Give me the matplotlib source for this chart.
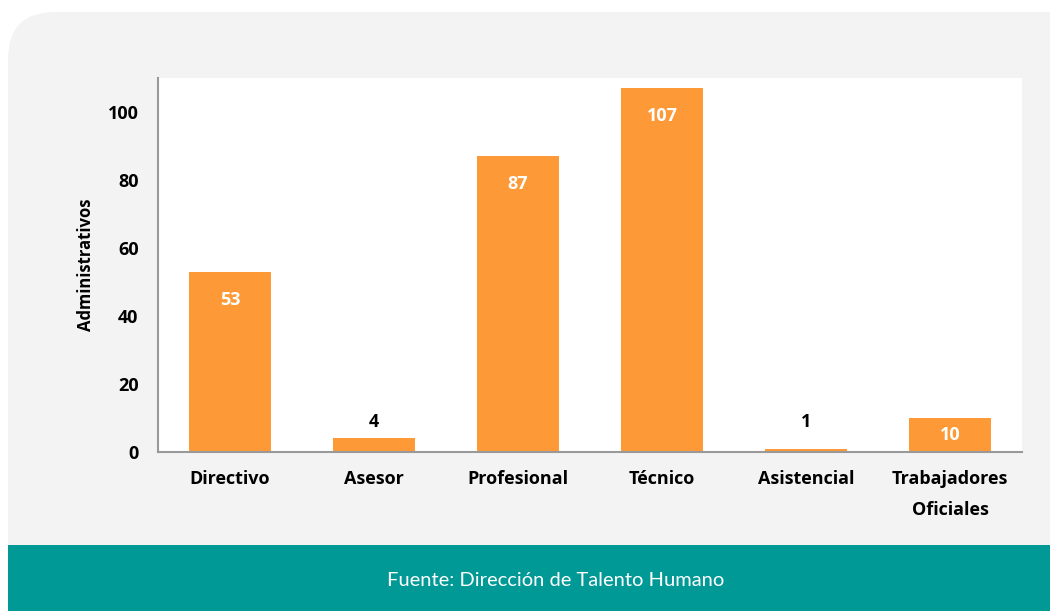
import matplotlib.pyplot as plt
from matplotlib.patches import FancyBboxPatch, Rectangle

plt.rcParams['font.family'] = ['Open Sans', 'DejaVu Sans']

categorias = ['Directivo', 'Asesor', 'Profesional', 'Técnico', 'Asistencial', 'Trabajadores\nOficiales']
valores = [53, 4, 87, 107, 1, 10]
yticks = [0, 20, 40, 60, 80, 100]

naranja = '#fd9a37'
teal = '#009995'

fig = plt.figure(figsize=(10.5, 6.11), dpi=100)
fig.patch.set_facecolor('white')

# panel gris redondeado y franja de fuente
panel = FancyBboxPatch((8 / 1050, 0), 1.2, (611 - 12) / 611, transform=fig.transFigure,
                       boxstyle='round,pad=0,rounding_size=0.045', mutation_aspect=1050 / 611,
                       facecolor='#f3f3f3', edgecolor='none', zorder=0)
fig.patches.append(panel)
franja = Rectangle((8 / 1050, 0), 1, 66 / 611, transform=fig.transFigure,
                   facecolor=teal, edgecolor='none', zorder=0.5)
fig.patches.append(franja)
fig.text(556 / 1050, 30 / 611, 'Fuente: Dirección de Talento Humano', color='white',
         fontsize=14.5, ha='center', va='center', family=['Lato', 'DejaVu Sans'])

ax = fig.add_axes([158 / 1050, (611 - 452) / 611, (1022 - 158) / 1050, (452 - 78) / 611])
ax.set_zorder(2)
ax.set_facecolor('white')
x = range(len(categorias))
ax.bar(x, valores, width=0.57, color=naranja, zorder=2)
ax.set_xlim(-0.5, len(categorias) - 0.5)
ax.set_ylim(0, 110)
ax.set_yticks(yticks)
ax.set_xticks(list(x))
ax.set_xticklabels(categorias, fontsize=13, fontweight='bold', linespacing=1.9)
ax.tick_params(axis='both', length=0, labelsize=13, pad=13)
for lbl in ax.get_yticklabels():
    lbl.set_fontweight('bold')
ax.tick_params(axis='y', pad=14)
ax.set_ylabel('Administrativos', fontsize=12, fontweight='bold', labelpad=9)

for s in ['top', 'right']:
    ax.spines[s].set_visible(False)
for s in ['left', 'bottom']:
    ax.spines[s].set_color('#999999')
    ax.spines[s].set_linewidth(1.5)

for xi, v in zip(x, valores):
    if v > 10:
        ax.text(xi, v - 8.2, str(v), ha='center', va='center', color='white',
                fontsize=13, fontweight='bold', zorder=3)
    elif v == 10:
        ax.text(xi, v / 2, str(v), ha='center', va='center', color='white',
                fontsize=13, fontweight='bold', zorder=3)
    else:
        ax.text(xi, max(v, 4) + 4.8, str(v), ha='center', va='center', color='black',
                fontsize=13, fontweight='bold', zorder=3)

fig.savefig('out.png', dpi=100)
